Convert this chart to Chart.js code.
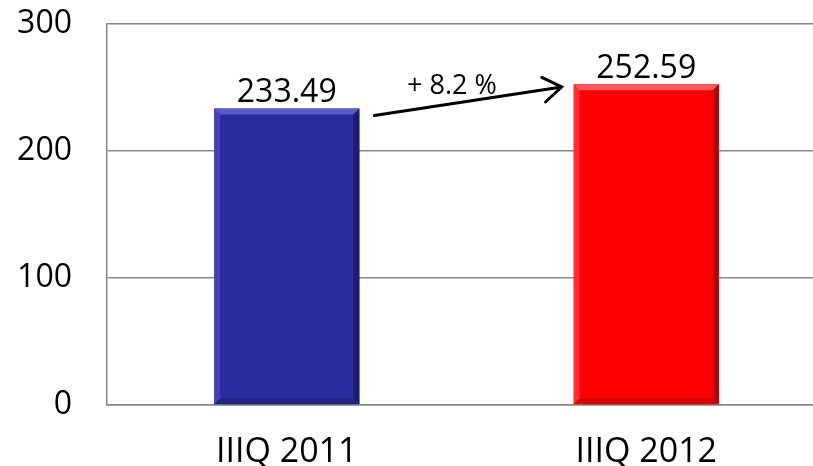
<!DOCTYPE html>
<html>
<head>
<meta charset="utf-8">
<script src="https://cdn.jsdelivr.net/npm/chart.js@4"></script>
<style>
  html, body { margin: 0; padding: 0; background: #fff; overflow: hidden; }
  #wrap { width: 826px; height: 466px; }
</style>
</head>
<body>
<div id="wrap"><canvas id="chart" width="826" height="466"></canvas></div>
<script>
const categories = ["IIIQ 2011", "IIIQ 2012"];
const values = [233.49, 252.59];
const barColors = ["#2B2B9F", "#FF0000"];
const lightColors = ["#5A5AC6", "#FF5A5A"];
const darkColors = ["#1C1C72", "#B80000"];
const yTicks = [0, 100, 200, 300];

const FONT = "'Open Sans', sans-serif";

// bevel look on the bars
const bevelPlugin = {
  id: "bevel",
  afterDatasetsDraw(chart) {
    const ctx = chart.ctx;
    const meta = chart.getDatasetMeta(0);
    meta.data.forEach((bar, i) => {
      const l = bar.x - bar.width / 2, r = bar.x + bar.width / 2;
      const t = bar.y, b = bar.base, k = 6;
      ctx.save();
      ctx.fillStyle = lightColors[i];
      ctx.beginPath();
      ctx.moveTo(l, t); ctx.lineTo(r, t); ctx.lineTo(r - k, t + k); ctx.lineTo(l + k, t + k);
      ctx.closePath(); ctx.fill();
      ctx.fillStyle = darkColors[i];
      ctx.beginPath();
      ctx.moveTo(r, t); ctx.lineTo(r, b); ctx.lineTo(r - k, b - k); ctx.lineTo(r - k, t + k);
      ctx.closePath(); ctx.fill();
      ctx.globalAlpha = 0.6;
      ctx.beginPath();
      ctx.moveTo(l, b); ctx.lineTo(r, b); ctx.lineTo(r - k, b - k); ctx.lineTo(l + k, b - k);
      ctx.closePath(); ctx.fill();
      ctx.fillStyle = lightColors[i];
      ctx.globalAlpha = 0.5;
      ctx.beginPath();
      ctx.moveTo(l, t); ctx.lineTo(l + k, t + k); ctx.lineTo(l + k, b - k); ctx.lineTo(l, b);
      ctx.closePath(); ctx.fill();
      ctx.restore();
    });
  }
};

// value labels and growth arrow
const labelPlugin = {
  id: "labels",
  afterDatasetsDraw(chart) {
    const ctx = chart.ctx;
    const meta = chart.getDatasetMeta(0);
    const y = chart.scales.y;
    ctx.save();
    ctx.fillStyle = "#000";
    ctx.font = "32px " + FONT;
    ctx.textAlign = "center";
    ctx.textBaseline = "alphabetic";
    meta.data.forEach((bar, i) => {
      ctx.fillText(values[i].toFixed(2), bar.x, bar.y - 6);
    });

    const a = meta.data[0], c = meta.data[1];
    const x0 = a.x + a.width / 2 + 15, y0 = y.getPixelForValue(values[0] - 5.5);
    const x1 = c.x - c.width / 2 - 12, y1 = y.getPixelForValue(values[1] - 2.2);
    ctx.strokeStyle = "#000";
    ctx.lineWidth = 3;
    ctx.lineCap = "round";
    ctx.beginPath();
    ctx.moveTo(x0, y0); ctx.lineTo(x1, y1);
    const ang = Math.atan2(y1 - y0, x1 - x0);
    const h = 22;
    ctx.moveTo(x1 - h * Math.cos(ang - 0.6), y1 - h * Math.sin(ang - 0.6));
    ctx.lineTo(x1, y1);
    ctx.lineTo(x1 - h * Math.cos(ang + 0.6), y1 - h * Math.sin(ang + 0.6));
    ctx.stroke();

    const pct = ((values[1] / values[0] - 1) * 100).toFixed(1);
    ctx.font = "27px " + FONT;
    ctx.fillText("+ " + pct + " %", (x0 + x1) / 2 - 16, y.getPixelForValue(values[0] + 11));
    ctx.restore();
  }
};

new Chart(document.getElementById("chart"), {
  type: "bar",
  data: {
    labels: categories,
    datasets: [{
      data: values,
      backgroundColor: barColors,
      borderWidth: 0,
      barPercentage: 0.404,
      categoryPercentage: 1
    }]
  },
  options: {
    responsive: false,
    animation: false,
    layout: { padding: { top: 24, right: 0, left: 0, bottom: 0 } },
    plugins: { legend: { display: false }, tooltip: { enabled: false } },
    scales: {
      x: {
        grid: { display: false, drawTicks: false },
        border: { color: "#888", width: 1.5 },
        ticks: { color: "#000", font: { family: FONT, size: 34 }, padding: 27 },
        afterFit(s) { s.height = 61; s.paddingLeft = 0; s.paddingRight = 0; }
      },
      y: {
        min: 0,
        max: 300,
        afterBuildTicks(s) { s.ticks = yTicks.map(v => ({ value: v })); },
        grid: { color: "#888", lineWidth: 1.5, drawTicks: false },
        border: { color: "#888", width: 1.5 },
        ticks: { color: "#000", font: { family: FONT, size: 32 }, padding: 35 },
        afterFit(s) { s.width = 107; s.paddingTop = 0; s.paddingBottom = 0; }
      }
    }
  },
  plugins: [bevelPlugin, labelPlugin]
});
</script>
</body>
</html>
